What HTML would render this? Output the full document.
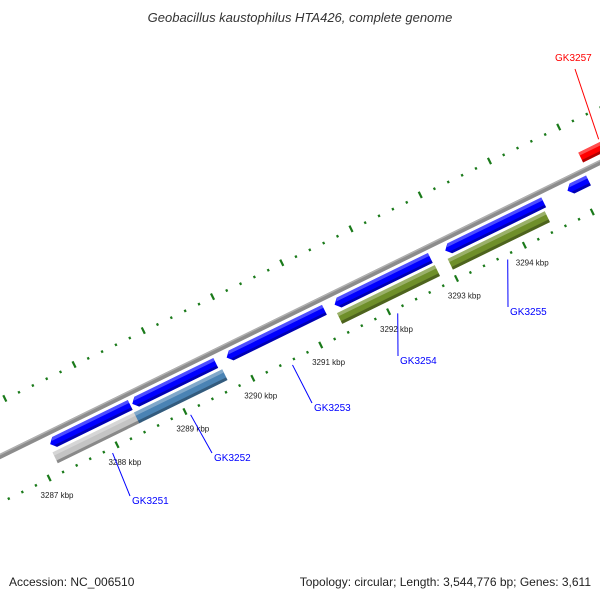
<!DOCTYPE html>
<html><head><meta charset="utf-8">
<style>
body{margin:0;background:#fff;width:600px;height:600px;overflow:hidden;font-family:"Liberation Sans",sans-serif;}
svg text{font-family:"Liberation Sans","DejaVu Sans",sans-serif;}
</style></head>
<body>
<svg id="map" width="600" height="600" xmlns="http://www.w3.org/2000/svg">
<text x="300" y="22" text-anchor="middle" font-size="13" font-style="italic" fill="#333">Geobacillus kaustophilus HTA426, complete genome</text>
<g id="rot" transform="translate(0,457) rotate(-26.1)"></g>
<g id="labels"></g>
<text x="9" y="586" font-size="12" fill="#222">Accession: NC_006510</text>
<text x="591" y="586" text-anchor="end" font-size="12" fill="#222">Topology: circular; Length: 3,544,776 bp; Genes: 3,611</text>
</svg>
<script>
const tickKbp=[3286,3287,3288,3289,3290,3291,3292,3293,3294,3295,3296];
const labelKbp=[3287,3288,3289,3290,3291,3292,3293,3294];
const fwdStarts=[3287.21,3288.42,3289.81,3291.40,3293.03,3294.83];
const fwdEnds=[3288.39,3289.65,3291.25,3292.81,3294.48,3295.14];
const revNames=["gray","steel","green1","green2"];
const revStarts=[3287.19,3288.39,3291.38,3293.01];
const revEnds=[3288.43,3289.69,3292.82,3294.44];
const revColors=["#c4c4c4","#4a83b4","#6f8f2a","#6f8f2a"];
const redStarts=[3286.47,3295.18];
const redEnds=[3286.56,3296.2];
const geneNames=["GK3251","GK3252","GK3253","GK3254","GK3255","GK3257"];
const geneKbp=[3287.9,3289.05,3290.55,3292.1,3293.72,3295.5];
const geneColors=["#0000ff","#0000ff","#0000ff","#0000ff","#0000ff","#ff0000"];
const geneLabelX=[132,214,314,400,510,555];
const geneLabelY=[504,461,411,364,315,61];

const NS="http://www.w3.org/2000/svg";
const TH=26.1*Math.PI/180, C=Math.cos(TH), S=Math.sin(TH);
const lowU=k=>34.8+(k-3287)*75.6;
const upU=k=>30+(k-3287)*77.1;
const toScreen=(u,v)=>[u*C+v*S, 457-u*S+v*C];
const rot=document.getElementById('rot');
const lab=document.getElementById('labels');
function mk(tag,attrs,parent){const e=document.createElementNS(NS,tag);for(const k in attrs)e.setAttribute(k,attrs[k]);parent.appendChild(e);return e;}

let bb=mk('rect',{x:-100,y:-3,width:1000,height:5,fill:'#8c8c8c'},rot);


let bb2=mk('rect',{x:-100,y:-3,width:1000,height:1.5,fill:'#b0b0b0'},rot);



for(let k0=tickKbp[0];k0<tickKbp[tickKbp.length-1];k0++){
  for(let j=0;j<5;j++){
    const k=k0+j*0.2, major=j===0;
    const ul=lowU(k);
    let t=mk('rect',{x:ul-1,y:major?37:40,width:2.2,height:major?7:2.5,fill:'#1a7a1a'},rot);
    
    
    const uu=upU(k);
    let t2=mk('rect',{x:uu-1,y:major?-54:-51,width:2.2,height:major?7:2.5,fill:'#1a7a1a'},rot);
    
    
  }
}

function gene(s,e,v0,h,color,arrowLeft,name){
  const a=lowU(s),b=lowU(e),g=mk('g',{},rot);
  
  
  const tip=arrowLeft?Math.min(5,(b-a)/2):0;
  mk('polygon',{points:`${a},${v0+h/2} ${a+tip},${v0} ${b},${v0} ${b},${v0+h} ${a+tip},${v0+h}`,fill:color},g);
  mk('polygon',{points:`${a+tip},${v0} ${b},${v0} ${b},${v0+h*0.3} ${a+tip*0.6},${v0+h*0.3}`,fill:'#ffffff',opacity:0.3},g);
  mk('polygon',{points:`${a+tip*0.6},${v0+h*0.75} ${b},${v0+h*0.75} ${b},${v0+h} ${a+tip},${v0+h}`,fill:'#000',opacity:0.3},g);
}
for(let i=0;i<fwdStarts.length;i++) gene(fwdStarts[i],fwdEnds[i],5,11,'#0000ff',true,'forward-gene');
for(let i=0;i<revStarts.length;i++) gene(revStarts[i],revEnds[i],19,12,revColors[i],false,'gene-'+revNames[i]);
for(let i=0;i<redStarts.length;i++) gene(redStarts[i],redEnds[i],-19,11,'#ff0000',false,'red-gene');

for(const k of labelKbp){
  const [x,y]=toScreen(lowU(k),54);
  let t=mk('text',{x:x+2,y:y+8,'font-size':8,fill:'#222','text-anchor':'middle'},lab);
  t.textContent=k+' kbp';
  
  
}
for(let i=0;i<geneNames.length;i++){
  const red=geneColors[i]==='#ff0000';
  const [x1,y1]=toScreen(lowU(geneKbp[i]),red?-22:46);
  const lx=geneLabelX[i], ly=geneLabelY[i];
  let l=mk('line',{x1:x1,y1:y1,x2:red?lx+20:lx-2,y2:red?ly+8:ly-8,stroke:geneColors[i],'stroke-width':1},lab);
  
  
  let t=mk('text',{x:lx,y:ly,'font-size':10,fill:geneColors[i]},lab);
  t.textContent=geneNames[i];
  
  
}
</script>
</body></html>
